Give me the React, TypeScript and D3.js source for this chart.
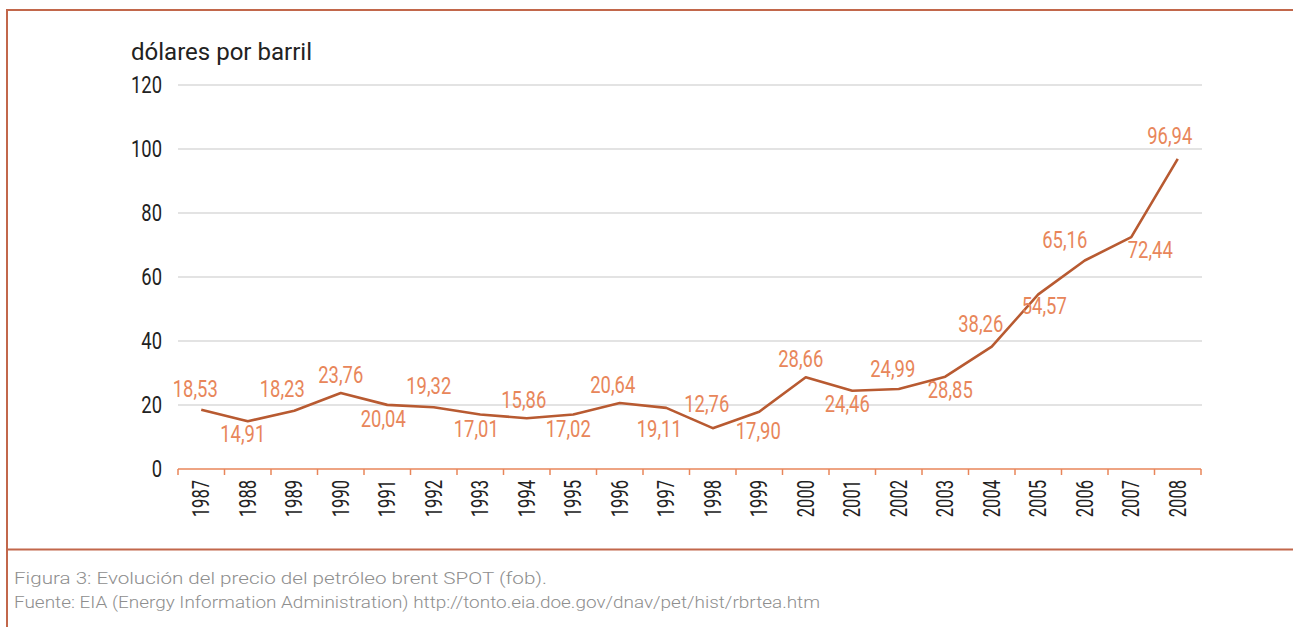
import React, { useEffect, useRef } from "react";
import * as d3 from "d3";

const years = ["1987","1988","1989","1990","1991","1992","1993","1994","1995","1996","1997","1998","1999","2000","2001","2002","2003","2004","2005","2006","2007","2008"];
const prices = [18.53,14.91,18.23,23.76,20.04,19.32,17.01,15.86,17.02,20.64,19.11,12.76,17.90,28.66,24.46,24.99,28.85,38.26,54.57,65.16,72.44,96.94];
const yTicks = [0,20,40,60,80,100,120];
const yTitle = "dólares por barril";
const captionLines = [
  "Figura 3: Evolución del precio del petróleo brent SPOT (fob).",
  "Fuente: EIA (Energy Information Administration) http://tonto.eia.doe.gov/dnav/pet/hist/rbrtea.htm",
];
// label placement offsets relative to each point (layout only)
const labelOffsets: [number, number][] = [
  [-6,-13],[-5,21],[-12,-14],[0,-10],[-4,22],[-5,-13],[-4,22],[-3,-10],[-5,22],[-7,-10],[-7,29],
  [-6,-16],[-1,27],[-5,-10],[-5,21],[-6,-12],[5,21],[-11,-15],[6,20],[-20,-12],[19,21],[-8,-15],
];
const captionWidths = [533, 806];

const W = 1293, H = 627;
const M = { left: 178, right: 1201, top: 85, bottom: 469 };
const FONT = "Roboto,'Noto Sans',sans-serif";
const SX = 0.8;

export default function App() {
  const ref = useRef<SVGSVGElement>(null);
  useEffect(() => {
    const svg = d3.select(ref.current);
    svg.selectAll("*").remove();
    const frame = "#C2674B";
    svg.append("line").attr("x1", 7).attr("x2", W).attr("y1", 10).attr("y2", 10).attr("stroke", frame).attr("stroke-width", 2);
    svg.append("line").attr("x1", 7).attr("x2", 7).attr("y1", 9).attr("y2", H).attr("stroke", frame).attr("stroke-width", 2);
    svg.append("line").attr("x1", 7).attr("x2", W).attr("y1", 549.5).attr("y2", 549.5).attr("stroke", frame).attr("stroke-width", 2);

    const x = d3.scaleBand().domain(years).range([M.left, M.right]).padding(0);
    const y = d3.scaleLinear().domain([0, 120]).range([M.bottom, M.top]);

    const g = svg.append("g");
    // gridlines
    g.selectAll(".grid").data(yTicks.filter(t => t > 0)).enter().append("line")
      .attr("x1", M.left).attr("x2", M.right + 1)
      .attr("y1", d => y(d)).attr("y2", d => y(d))
      .attr("stroke", "#C8C8C8").attr("stroke-width", 1.2);
    // y labels
    g.selectAll(".yl").data(yTicks).enter().append("text")
      .attr("transform", d => `translate(162,${y(d) + 8}) scale(${SX},1)`)
      .attr("text-anchor", "end").attr("font-family", FONT).attr("font-size", 23)
      .attr("fill", "#222").text(d => String(d));
    // title
    svg.append("text").attr("x", 131).attr("y", 60)
      .attr("textLength", 181).attr("lengthAdjust", "spacingAndGlyphs")
      .attr("font-family", FONT).attr("font-size", 24)
      .attr("fill", "#222").text(yTitle);

    // x axis
    const axisColor = "#E8865A";
    g.append("line").attr("x1", M.left).attr("x2", M.right).attr("y1", M.bottom).attr("y2", M.bottom)
      .attr("stroke", axisColor).attr("stroke-width", 1.5);
    const bounds = years.map(yr => x(yr) as number).concat([M.right]);
    g.selectAll(".tk").data(bounds).enter().append("line")
      .attr("x1", d => d).attr("x2", d => d).attr("y1", M.bottom).attr("y2", M.bottom + 6)
      .attr("stroke", axisColor).attr("stroke-width", 1.5);
    g.selectAll(".xl").data(years).enter().append("text")
      .attr("transform", d => `translate(${(x(d) as number) + x.bandwidth() / 2 + 8},480) rotate(-90) scale(0.72,1)`)
      .attr("text-anchor", "end").attr("font-family", FONT).attr("font-size", 23)
      .attr("fill", "#222").text(d => d);

    // line
    const cx = (i: number) => (x(years[i]) as number) + x.bandwidth() / 2;
    const line = d3.line<number>().x((_, i) => cx(i)).y(d => y(d));
    g.append("path").datum(prices).attr("d", line).attr("fill", "none")
      .attr("stroke", "#B85A31").attr("stroke-width", 2.6).attr("stroke-linejoin", "round");

    // labels
    g.selectAll(".dl").data(prices).enter().append("text")
      .attr("transform", (d, i) => `translate(${cx(i) + labelOffsets[i][0]},${y(d) + labelOffsets[i][1]}) scale(${SX},1)`)
      .attr("text-anchor", "middle").attr("font-family", FONT).attr("font-size", 23)
      .attr("fill", "#E8865A").text(d => d.toFixed(2).replace(".", ","));

    // caption
    svg.selectAll(".cap").data(captionLines).enter().append("text")
      .attr("x", 14).attr("y", (_, i) => 584 + i * 23.5)
      .attr("textLength", (_, i) => captionWidths[i]).attr("lengthAdjust", "spacingAndGlyphs")
      .attr("font-family", FONT).attr("font-weight", 300).attr("font-size", 16.5).attr("fill", "#8E8E8E").text(d => d);
  }, []);
  return (
    <svg ref={ref} width={W} height={H} style={{ position: "absolute", left: 0, top: 0, background: "#fff" }} />
  );
}
